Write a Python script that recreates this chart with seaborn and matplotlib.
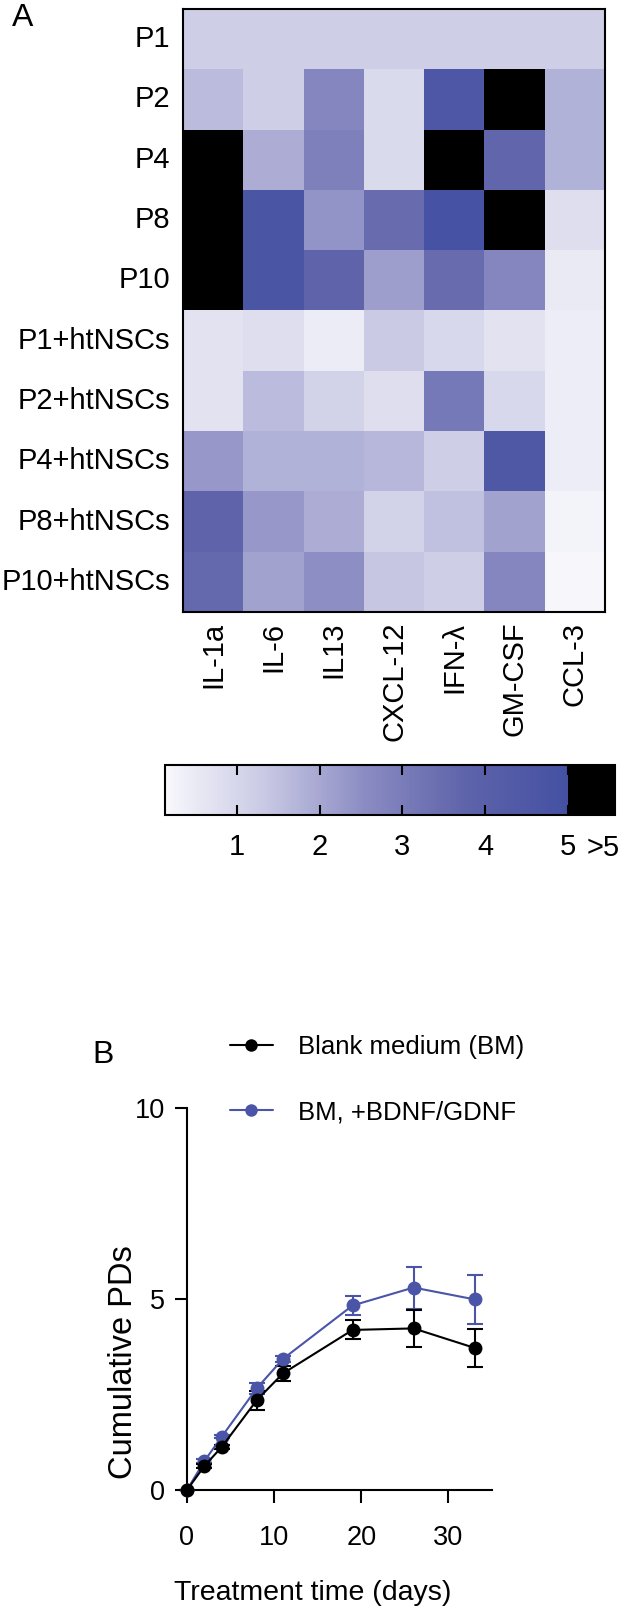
import numpy as np
import pandas as pd
import seaborn as sns
import matplotlib
matplotlib.use('Agg')
import matplotlib.pyplot as plt
from matplotlib.colors import LinearSegmentedColormap
from matplotlib.lines import Line2D

# ---- panel A: cytokine fold change (values > 5 drawn black) ----
groups = ['P1', 'P2', 'P4', 'P8', 'P10',
          'P1+htNSCs', 'P2+htNSCs', 'P4+htNSCs', 'P8+htNSCs', 'P10+htNSCs']
cytokines = ['IL-1a', 'IL-6', 'IL13', 'CXCL-12', 'IFN-λ', 'GM-CSF', 'CCL-3']

p1 = [1.2, 1.2, 1.2, 1.2, 1.2, 1.2, 1.2]
p2 = [1.6, 1.2, 2.7, 0.9, 4.6, 6.0, 1.8]
p4 = [6.0, 1.9, 2.9, 0.9, 6.0, 3.7, 1.8]
p8 = [6.0, 4.7, 2.4, 3.5, 4.9, 6.0, 0.8]
p10 = [6.0, 4.7, 3.8, 2.2, 3.5, 2.7, 0.5]
p1_ht = [0.7, 0.8, 0.45, 1.3, 0.95, 0.7, 0.4]
p2_ht = [0.7, 1.6, 1.1, 0.8, 3.1, 0.95, 0.4]
p4_ht = [2.3, 1.8, 1.8, 1.7, 1.2, 4.5, 0.4]
p8_ht = [3.8, 2.3, 1.9, 1.1, 1.5, 2.1, 0.25]
p10_ht = [3.6, 2.1, 2.5, 1.4, 1.2, 2.7, 0.2]

cbar_ticks = [1, 2, 3, 4, 5]

# ---- panel B: cumulative population doublings ----
days = [0, 2, 4, 8, 11, 19, 26, 33]
bm_mean = [0, 0.63, 1.13, 2.35, 3.05, 4.19, 4.23, 3.72]
bm_err = [0, 0.06, 0.06, 0.25, 0.2, 0.25, 0.48, 0.5]
bdnf_mean = [0, 0.76, 1.40, 2.66, 3.43, 4.83, 5.30, 4.99]
bdnf_err = [0, 0.05, 0.05, 0.15, 0.08, 0.25, 0.55, 0.65]
series = ['Blank medium (BM)', 'BM, +BDNF/GDNF']
colors = ['black', '#4a55a8']

sns.set_style('ticks')
plt.rcParams['font.family'] = ['Liberation Sans', 'DejaVu Sans']
plt.rcParams['font.size'] = 21
for k in ['text.color', 'axes.labelcolor', 'xtick.color', 'ytick.color']:
    plt.rcParams[k] = 'black'

W, H = 623, 1610
fig = plt.figure(figsize=(W / 100, H / 100), dpi=100)


def box(x0, y0, x1, y1):
    # pixel box (top-left origin) -> figure fraction rect
    return [x0 / W, 1 - y1 / H, (x1 - x0) / W, (y1 - y0) / H]


ax_hm = fig.add_axes(box(183, 9, 605, 612))
cax = fig.add_axes(box(165, 765, 615, 815))

heat = pd.DataFrame([p1, p2, p4, p8, p10, p1_ht, p2_ht, p4_ht, p8_ht, p10_ht],
                    index=groups, columns=cytokines)

cmap = LinearSegmentedColormap.from_list(
    'fold', ['#f8f8fc', '#c8c8e4', '#8a8bc2', '#5e63aa', '#4451a2'])
cmap.set_over('black')

sns.heatmap(heat, ax=ax_hm, cmap=cmap, vmin=0.13, vmax=5,
            cbar_ax=cax,
            cbar_kws={'orientation': 'horizontal', 'extend': 'max',
                      'extendrect': True, 'extendfrac': 0.117,
                      'ticks': cbar_ticks})
ax_hm.tick_params(length=0, labelsize=21)
ax_hm.tick_params(axis='y', pad=9.5)
ax_hm.tick_params(axis='x', pad=7)
ax_hm.set_yticklabels(groups, rotation=0)
ax_hm.set_xticklabels(cytokines, rotation=90)
ax_hm.set_xlabel('')
ax_hm.set_ylabel('')
for s in ax_hm.spines.values():
    s.set_visible(True)
    s.set_linewidth(1.5)
    s.set_color('black')

cb = ax_hm.collections[0].colorbar
cb.outline.set_linewidth(1.5)
cb.outline.set_edgecolor('black')
cb.ax.set_axisbelow(False)  # ticks style puts axis under the gradient
cb.ax.tick_params(axis='x', which='major', direction='in', length=7,
                  width=1.5, top=True, bottom=True, color='black',
                  labelsize=21, pad=13)
cb.ax.set_xticklabels([str(t) for t in cbar_ticks])
fig.text(603 / W, 1 - 848 / H, '>5', ha='center', va='center', fontsize=21)

fig.text(12 / W, 1 - 18 / H, 'A', fontsize=23, va='center')
fig.text(92 / W, 1 - 1055 / H, 'B', fontsize=23, va='center')

# ---- line chart ----
ax = fig.add_axes(box(187, 1108, 492, 1490))
long = pd.DataFrame({
    'day': days * 2,
    'pd': bdnf_mean + bm_mean,
    'group': [series[1]] * len(days) + [series[0]] * len(days),
})
for name, mean, err, c in [(series[1], bdnf_mean, bdnf_err, colors[1]),
                           (series[0], bm_mean, bm_err, colors[0])]:
    ax.errorbar(days, mean, yerr=err, fmt='none', ecolor=c, elinewidth=1.5,
                capsize=6, capthick=1.5, clip_on=False, zorder=3)
sns.lineplot(data=long, x='day', y='pd', hue='group',
             hue_order=[series[1], series[0]],
             palette={series[0]: colors[0], series[1]: colors[1]},
             marker='o', markersize=10, markeredgewidth=0, lw=1.5,
             legend=False, ax=ax, clip_on=False, zorder=4)

ax.set_xlim(0, 35)
ax.set_ylim(0, 10)
ax.set_xticks([0, 10, 20, 30])
ax.set_yticks([0, 5, 10])
sns.despine(ax=ax)
for s in ['left', 'bottom']:
    ax.spines[s].set_linewidth(1.5)
    ax.spines[s].set_color('black')
ax.tick_params(axis='both', length=9, width=1.5, labelsize=19.5, color='black')
ax.tick_params(axis='x', pad=16)
ax.tick_params(axis='y', pad=7)
ax.set_xlabel('Treatment time (days)', fontsize=20.5)
ax.set_ylabel('Cumulative PDs', fontsize=23.5)
ax.xaxis.set_label_coords(0.413, -0.236)
ax.yaxis.set_label_coords(-0.157, 0.335)

handles = [Line2D([0], [0], color=c, marker='o', markersize=9, lw=1.5,
                  markeredgewidth=0) for c in colors]
fig.legend(handles, series, loc='upper left',
           bbox_to_anchor=(230 / W, 1 - 1035 / H), frameon=False,
           fontsize=18.5, handlelength=1.67, handletextpad=0.97,
           labelspacing=1.6, borderaxespad=0, borderpad=0)

fig.savefig('out.png', dpi=100)
